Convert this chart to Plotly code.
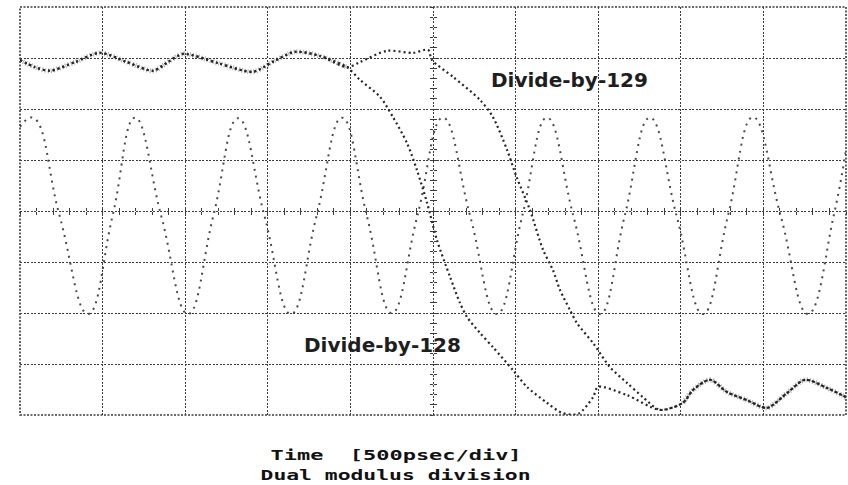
import plotly.graph_objects as go

# Sampling-scope capture: time in ps (500 ps/div), amplitude in screen divisions (centre = 0)

# Input clock (peaks, zero crossings, troughs)
clk_t = [0, 79, 240, 412, 560, 696, 855, 1017, 1170, 1320, 1480, 1640, 1795, 1949,
         2100, 2250, 2405, 2560, 2725, 2887, 3040, 3190, 3350, 3511, 3660, 3813,
         3975, 4134, 4285, 4437, 4605, 4770, 4925, 5000]
clk_v = [1.65, 1.83, -0.1, -2.02, -0.1, 1.83, -0.1, -2.02, -0.1, 1.82, -0.1, -2.02,
         -0.1, 1.83, -0.1, -2.0, -0.1, 1.83, -0.1, -2.02, -0.1, 1.83, -0.1, -2.02,
         -0.1, 1.83, -0.1, -2.02, -0.1, 1.84, -0.1, -2.02, -0.1, 1.2]

# Divider output, common high level before the edge
high_t = [0, 91, 182, 333, 484, 648, 805, 896, 987, 1199, 1410, 1538, 1665, 1816, 1979]
high_v = [2.96, 2.82, 2.75, 2.92, 3.10, 2.92, 2.75, 2.92, 3.08, 2.90, 2.73, 2.94, 3.12, 3.04, 2.82]

# Divide-by-129 falling edge
d129_t = [2058, 2221, 2379, 2470, 2494, 2621, 2784, 2863, 2948, 3008, 3087, 3166, 3226,
          3269, 3329, 3372, 3469, 3571, 3674, 3771, 3874]
d129_v = [2.92, 3.14, 3.10, 3.16, 2.96, 2.63, 2.18, 1.84, 1.20, 0.65, 0.02, -0.76, -1.16,
          -1.55, -1.94, -2.20, -2.59, -3.06, -3.37, -3.65, -3.90]

# Divide-by-128 falling edge
d128_t = [2058, 2179, 2258, 2343, 2403, 2464, 2524, 2603, 2663, 2706, 2784, 2863, 2984,
          3069, 3190, 3281, 3378, 3469, 3499, 3674, 3874]
d128_v = [2.57, 2.24, 1.84, 1.33, 0.80, 0.16, -0.57, -1.29, -1.80, -2.08, -2.39, -2.67,
          -3.12, -3.45, -3.76, -3.96, -3.98, -3.65, -3.45, -3.61, -3.90]

# Common low level after both edges
low_t = [4013, 4074, 4177, 4280, 4401, 4522, 4643, 4752, 4885, 5000]
low_v = [-3.76, -3.51, -3.31, -3.55, -3.71, -3.86, -3.57, -3.31, -3.47, -3.65]

T_SPAN = 5000
V_HALF = 4
GRID = "#3a3a3a"

fig = go.Figure()

fig.add_trace(go.Scatter(
    x=clk_t, y=clk_v, mode="lines",
    line=dict(shape="spline", smoothing=1.3, dash="2px,5px", width=2, color="#4a4a4a"),
    showlegend=False, hoverinfo="skip"))

# noisy, overlapping high and low levels of the two divider outputs
for t_lvl, v_lvl in ((high_t, high_v), (low_t, low_v)):
    fig.add_trace(go.Scatter(
        x=t_lvl, y=v_lvl, mode="lines",
        line=dict(shape="spline", smoothing=0.8, dash="1px,2px", width=5,
                  color="rgba(30,30,30,0.35)"),
        showlegend=False, hoverinfo="skip"))

for t_edge, v_edge in ((d129_t, d129_v), (d128_t, d128_v)):
    fig.add_trace(go.Scatter(
        x=high_t + t_edge + low_t, y=high_v + v_edge + low_v, mode="lines",
        line=dict(shape="spline", smoothing=0.8, dash="2px,3px", width=2.2, color="#262626"),
        showlegend=False, hoverinfo="skip"))

# carriers for the centre-line tick axes
fig.add_trace(go.Scatter(x=[], y=[], xaxis="x2", showlegend=False, hoverinfo="skip"))
fig.add_trace(go.Scatter(x=[], y=[], xaxis="x3", showlegend=False, hoverinfo="skip"))
fig.add_trace(go.Scatter(x=[], y=[], yaxis="y2", showlegend=False, hoverinfo="skip"))
fig.add_trace(go.Scatter(x=[], y=[], yaxis="y3", showlegend=False, hoverinfo="skip"))

grid_axis = dict(showgrid=True, griddash="2px,1.5px", gridcolor=GRID, gridwidth=1.3,
                 zeroline=False, showticklabels=False, ticks="", showline=False,
                 fixedrange=True)
fig.update_xaxes(range=[0, T_SPAN], tick0=0, dtick=500, **grid_axis)
fig.update_yaxes(range=[-V_HALF, V_HALF], tick0=-V_HALF, dtick=1, **grid_axis)

centre_ticks = dict(showgrid=False, zeroline=False, showticklabels=False, showline=False,
                    ticklen=3, tickwidth=1.2, tickcolor=GRID, anchor="free", position=0.5)
fig.update_layout(
    xaxis2=dict(overlaying="x", range=[0, T_SPAN], tick0=0, dtick=100, ticks="inside", **centre_ticks),
    xaxis3=dict(overlaying="x", range=[0, T_SPAN], tick0=0, dtick=100, ticks="outside", **centre_ticks),
    yaxis2=dict(overlaying="y", range=[-V_HALF, V_HALF], tick0=0, dtick=0.2, ticks="inside", **centre_ticks),
    yaxis3=dict(overlaying="y", range=[-V_HALF, V_HALF], tick0=0, dtick=0.2, ticks="outside", **centre_ticks),
)

fig.add_shape(type="rect", xref="paper", yref="paper", x0=0, y0=0, x1=1, y1=1,
              line=dict(color=GRID, width=1.6, dash="2px,1.5px"))

label_font = dict(family="DejaVu Sans", size=20, color="#1e1e1e", weight="bold")
fig.add_annotation(x=3329, y=2.56, text="Divide-by-129", showarrow=False,
                   xanchor="center", yanchor="middle", font=label_font)
fig.add_annotation(x=2197, y=-2.62, text="Divide-by-128", showarrow=False,
                   xanchor="center", yanchor="middle", font=label_font)

caption_font = dict(family="DejaVu Sans Mono", size=14, color="#111", weight="bold")
fig.add_annotation(x=0.455, y=-0.098, xref="paper", yref="paper", text="Time  [500psec/div]",
                   showarrow=False, xanchor="center", yanchor="middle", font=caption_font)
fig.add_annotation(x=0.455, y=-0.147, xref="paper", yref="paper", text="Dual modulus division",
                   showarrow=False, xanchor="center", yanchor="middle", font=caption_font)

fig.update_layout(
    width=848, height=485,
    margin=dict(l=20, r=2, t=7, b=70),
    paper_bgcolor="white", plot_bgcolor="white",
)

# widen the monospaced caption glyphs like the scope's character generator
stretch_js = """
var widths = {"Time  [500psec/div]": 251, "Dual modulus division": 270};
var gd = document.getElementById('{plot_id}');
gd.querySelectorAll('.annotation-text').forEach(function(el) {
    var w = widths[el.textContent];
    if (w) {
        el.setAttribute('textLength', w);
        el.setAttribute('lengthAdjust', 'spacingAndGlyphs');
    }
});
"""

fig.write_html("out.html", post_script=stretch_js)
